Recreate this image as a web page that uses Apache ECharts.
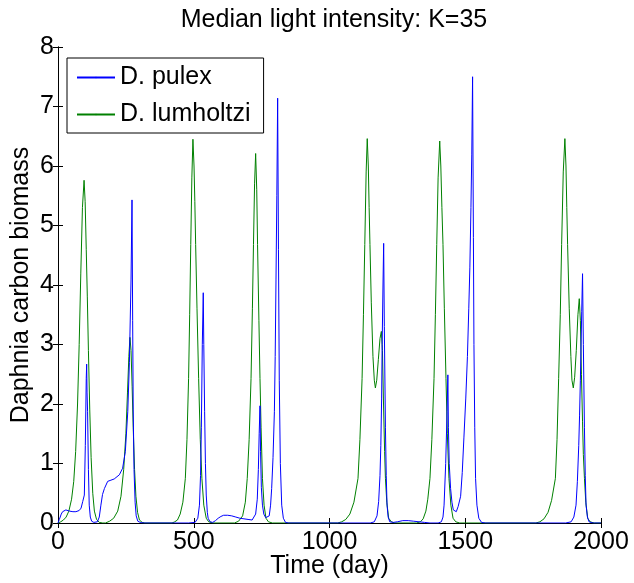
<!DOCTYPE html>
<html><head><meta charset="utf-8">
<script src="https://cdn.jsdelivr.net/npm/echarts@6/dist/echarts.min.js"></script>
<style>html,body{margin:0;padding:0;background:#fff}#c{width:634px;height:583px}</style>
</head><body><div id="c"></div>
<script>
var titleText = 'Median light intensity: K=35';
var xName = 'Time (day)';
var yName = 'Daphnia carbon biomass';
var seriesNames = ['D. pulex', 'D. lumholtzi'];
var xTicks = [0, 500, 1000, 1500, 2000];
var yTicks = [0, 1, 2, 3, 4, 5, 6, 7, 8];

var pulex = [
 [0,0],[5,0.06],[12,0.15],[17,0.19],[29,0.22],[42,0.2],[55,0.19],[66,0.19],[78,0.21],[85,0.25],[91,0.36],[97,0.47],[100.6,1.3],[104,2.43],[105.6,2.67],[107,2.2],[109,1.87],[112,0.9],[115,0.3],[119,0.1],[124,0.03],[132,0.01],[145,0.02],[152,0.1],[158,0.3],[164,0.48],[171,0.58],[183,0.7],[195,0.72],[207,0.74],[226,0.81],[238,0.92],[248,1.2],[257,1.87],[263,2.7],[269,4.1],[272.6,5.43],[275,3.4],[277,1.9],[280,0.9],[284,0.35],[288,0.12],[294,0.03],[305,0.005],[320,0],
 [480,0],[505,0.01],[515,0.08],[521,0.3],[525,0.8],[528,1.6],[531.5,3.0],[535,3.87],[537,3.0],[540,1.87],[543,1.0],[546,0.47],[550,0.18],[553,0.08],[560,0.02],[570,0.01],[580,0.04],[590,0.08],[600,0.11],[610,0.13],[625,0.13],[640,0.12],[655,0.1],[670,0.08],[685,0.07],[700,0.06],[715,0.05],
 [720,0.06],[728,0.15],[734,0.4],[738,0.9],[741,1.5],[744,1.97],[746,1.2],[749,0.6],[753,0.3],[758,0.15],[765,0.09],[772,0.07],[778,0.12],[783,0.3],[787,0.58],[792,1.1],[797,1.87],[800,2.8],[803,4.1],[806,5.5],[809,7.14],[812,4.6],[815,2.4],[819,1.0],[824,0.3],[830,0.08],[838,0.01],[850,0],
 [1150,0],[1165,0.02],[1175,0.12],[1181,0.36],[1186,0.8],[1189,1.3],[1192,2.1],[1194,3.0],[1197,4.0],[1199.5,4.7],[1202,3.3],[1206,1.6],[1209,0.8],[1212,0.3],[1216,0.1],[1222,0.02],[1235,0.01],[1250,0.02],[1270,0.04],[1290,0.04],[1310,0.03],[1330,0.02],[1350,0.01],[1370,0],
 [1400,0],[1412,0.02],[1418,0.1],[1422,0.3],[1428,1.0],[1433,1.87],[1436,2.49],[1438,1.6],[1441,1.0],[1446,0.58],[1451,0.35],[1456,0.22],[1462,0.19],[1467,0.19],[1474,0.28],[1483,0.45],[1489,0.85],[1495,1.43],[1502,2.1],[1508,2.8],[1513,3.6],[1517,4.3],[1521,5.3],[1524,6.2],[1527,7.5],[1530,4.8],[1532,3.0],[1535,1.6],[1538,0.75],[1543,0.3],[1550,0.08],[1560,0.01],[1575,0],
 [1870,0],[1890,0.02],[1900,0.1],[1908,0.3],[1913,0.7],[1918,1.3],[1921,1.8],[1924,2.4],[1929,3.56],[1932,4.19],[1935,3.0],[1939,1.6],[1942,0.8],[1945,0.3],[1950,0.1],[1956,0.02],[1970,0],[2000,0]
];

var lumholtzi = [
 [0,0],[10,0.02],[20,0.05],[30,0.1],[40,0.2],[50,0.4],[58,0.7],[65,1.2],[72,2.0],[78,3.0],[84,4.2],[90,5.3],[96,5.76],[100,5.4],[104,4.6],[108,3.8],[112,2.9],[117,1.9],[122,1.1],[128,0.5],[134,0.2],[142,0.06],[152,0.01],[165,0],
 [175,0],[190,0.03],[205,0.08],[220,0.2],[232,0.45],[242,0.9],[250,1.5],[256,2.2],[261,2.8],[265,3.12],[269,2.9],[273,2.3],[277,1.6],[282,0.9],[287,0.45],[293,0.18],[300,0.05],[310,0.01],[320,0],
 [420,0],[430,0.02],[440,0.05],[450,0.15],[460,0.35],[469,0.75],[475,1.4],[481,2.43],[485,3.5],[489,4.68],[493,5.8],[497,6.45],[501,6.0],[504,5.4],[507,4.68],[512,3.6],[518,2.43],[524,1.4],[530,0.75],[537,0.3],[546,0.08],[555,0.02],[570,0],
 [650,0],[665,0.03],[680,0.12],[690,0.35],[697,0.75],[704,1.4],[711,2.43],[716,3.6],[720,4.68],[724,5.7],[728,6.21],[732,5.6],[735,4.68],[740,3.4],[744,2.43],[748,1.6],[753,0.75],[759,0.3],[766,0.08],[775,0.02],[790,0],
 [1030,0],[1045,0.02],[1060,0.06],[1075,0.15],[1090,0.35],[1105,0.75],[1112,1.4],[1120,2.43],[1125,3.5],[1130,4.68],[1135,5.9],[1139,6.46],[1143,6.0],[1146,5.3],[1149,4.68],[1154,3.7],[1160,2.8],[1165,2.4],[1169,2.27],[1174,2.4],[1180,2.75],[1186,3.1],[1191,3.22],[1195,2.9],[1199,2.0],[1203,1.2],[1206,0.75],[1211,0.35],[1218,0.08],[1228,0.02],[1240,0],
 [1320,0],[1335,0.02],[1345,0.07],[1355,0.2],[1362,0.4],[1370,0.75],[1377,1.4],[1385,2.43],[1390,3.5],[1395,4.68],[1400,5.8],[1406,6.42],[1410,6.0],[1414,5.3],[1418,4.68],[1423,3.6],[1429,2.43],[1434,1.5],[1440,0.75],[1447,0.3],[1455,0.08],[1465,0.02],[1480,0],
 [1760,0],[1775,0.02],[1790,0.07],[1805,0.18],[1818,0.38],[1832,0.75],[1838,1.4],[1844,2.43],[1850,3.5],[1855,4.68],[1861,5.9],[1867,6.46],[1871,6.0],[1874,5.3],[1877,4.68],[1883,3.6],[1889,2.8],[1893,2.4],[1898,2.27],[1903,2.45],[1909,2.9],[1915,3.5],[1920,3.77],[1924,3.4],[1928,2.5],[1932,1.7],[1935,1.15],[1939,0.75],[1944,0.35],[1951,0.08],[1960,0.02],[1975,0],[2000,0]
];

var FONT = 'Liberation Sans, Arial, Helvetica, sans-serif';
var chart = echarts.init(document.getElementById('c'), null, {renderer: 'canvas'});
var axisCommon = {
  axisLine: {show: true, lineStyle: {color: '#000', width: 1}},
  axisTick: {show: true, inside: true, length: 5, lineStyle: {color: '#000'}},
  splitLine: {show: false}
};
chart.setOption({
  animation: false,
  backgroundColor: '#fff',
  title: {text: titleText, left: 329, top: 3, textAlign: 'center',
    textStyle: {fontFamily: FONT, fontSize: 25, fontWeight: 'normal', color: '#000'}},
  grid: {left: 58, right: 33, top: 47, bottom: 60, containLabel: false, outerBoundsMode: 'none'},
  legend: {
    orient: 'vertical', left: 67, top: 58,
    data: seriesNames,
    borderColor: '#000', borderWidth: 1, backgroundColor: '#fff', borderRadius: 0,
    padding: [7, 13, 6, 9], itemGap: 12, itemWidth: 38, itemHeight: 2,
    textStyle: {fontFamily: FONT, fontSize: 25, color: '#000', padding: [0, 0, 0, 0]}
  },
  xAxis: [
    Object.assign({type: 'value', min: 0, max: 2000, interval: 500, position: 'bottom',
      name: xName, nameLocation: 'middle', nameGap: 31, nameMoveOverlap: false,
      nameTextStyle: {fontFamily: FONT, fontSize: 25, color: '#000'},
      axisLabel: {fontFamily: FONT, fontSize: 25, color: '#000', margin: 7,
        formatter: function (v) { return String(v); }}}, axisCommon),
    Object.assign({type: 'value', min: 0, max: 2000, interval: 500, position: 'top',
      axisLabel: {show: false}}, axisCommon)
  ],
  yAxis: [
    Object.assign({type: 'value', min: 0, max: 8, interval: 1, position: 'left',
      name: yName, nameLocation: 'middle', nameGap: 24, nameMoveOverlap: false,
      nameTextStyle: {fontFamily: FONT, fontSize: 25, color: '#000'},
      axisLabel: {fontFamily: FONT, fontSize: 25, color: '#000', margin: 4,
        formatter: function (v) { return String(v); }}}, axisCommon),
    Object.assign({type: 'value', min: 0, max: 8, interval: 1, position: 'right',
      axisLabel: {show: false}}, axisCommon)
  ],
  series: [
    {name: seriesNames[0], type: 'line', data: pulex, symbol: 'none', xAxisIndex: 0, yAxisIndex: 0,
     lineStyle: {color: '#0000ff', width: 1}, itemStyle: {color: '#0000ff'}, z: 3},
    {name: seriesNames[1], type: 'line', data: lumholtzi, symbol: 'none', xAxisIndex: 0, yAxisIndex: 0,
     lineStyle: {color: '#008000', width: 1}, itemStyle: {color: '#008000'}, z: 2}
  ]
});
</script></body></html>
